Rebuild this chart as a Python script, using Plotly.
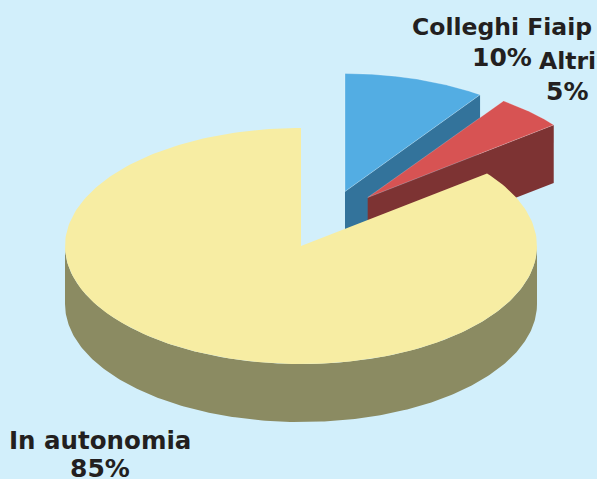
import numpy as np
import plotly.graph_objects as go

# Data
categories = ["Colleghi Fiaip", "Altri", "In autonomia"]
percent_labels = ["10%", "5%", "85%"]
shares = [9.7, 4.75, 85.55]  # effective drawn angular shares

# Styling
top_colors = ["#53ADE3", "#D75353", "#F7EDA3"]
side_colors = ["#33739B", "#7D3333", "#8B8B62"]
edge_colors = ["rgba(255,255,255,0.25)", "rgba(255,255,255,0.2)", "rgba(0,0,0,0)"]
name_sizes = [23.5, 23.5, 24.5]
BG = "#D2EFFB"
TEXT = "#231F20"
centers = {"Colleghi Fiaip": (345, 191.5), "Altri": (367.7, 197.5), "In autonomia": (301, 246)}
RX, RY, DEPTH = 236, 118, 58


def point(c, deg, drop=0):
    t = np.radians(deg)
    return c[0] + RX * np.sin(t), c[1] - RY * np.cos(t) + drop


def arc(c, a0, a1, drop=0, n=240):
    t = np.linspace(a0, a1, n)
    return point(c, t, drop)


def poly(xs, ys, color, edge=None):
    return go.Scatter(x=list(xs), y=list(ys), mode="lines", fill="toself", fillcolor=color,
                      line=dict(width=1 if edge else 0, color=edge or color),
                      hoverinfo="skip", showlegend=False)


fig = go.Figure()
edges = np.cumsum([0] + shares) * 3.6
for i, name in enumerate(categories):
    c = centers[name]
    a0, a1 = edges[i], edges[i + 1]
    # visible side walls
    if a1 < 180:  # wedge in the upper right: inner wall along its far edge
        ex, ey = point(c, a1)
        fig.add_trace(poly([c[0], ex, ex, c[0]], [c[1], ey, ey + DEPTH, c[1] + DEPTH], side_colors[i]))
    # outer rim, front half
    lo, hi = max(a0, 90), min(a1, 270)
    if hi > lo:
        x1, y1 = arc(c, lo, hi)
        x2, y2 = arc(c, hi, lo, DEPTH)
        fig.add_trace(poly(np.r_[x1, x2], np.r_[y1, y2], side_colors[i]))
    # top face
    x, y = arc(c, a0, a1)
    fig.add_trace(poly(np.r_[c[0], x, c[0]], np.r_[c[1], y, c[1]], top_colors[i], edge_colors[i]))

label_pos = [(502, 27, 57), (567, 61, 91), (100, 440, 468)]
for name, pct, size, (lx, ly1, ly2) in zip(categories, percent_labels, name_sizes, label_pos):
    fig.add_annotation(x=lx, y=ly1, xref="x", yref="y", text=name, showarrow=False, align="center",
                       font=dict(family="DejaVu Sans", size=size, color=TEXT, weight="bold"))
    fig.add_annotation(x=lx, y=ly2, xref="x", yref="y", text=pct, showarrow=False, align="center",
                       font=dict(family="DejaVu Sans", size=25, color=TEXT, weight="bold"))

fig.update_layout(
    width=597, height=479, margin=dict(l=0, r=0, t=0, b=0),
    paper_bgcolor=BG, plot_bgcolor=BG, showlegend=False,
    xaxis=dict(range=[0, 597], visible=False, fixedrange=True),
    yaxis=dict(range=[479, 0], visible=False, fixedrange=True),
)
fig.write_html("out.html", config={"displayModeBar": False},
               post_script="document.body.style.margin='0';document.body.style.overflow='hidden';document.documentElement.style.background='%s';" % BG)
